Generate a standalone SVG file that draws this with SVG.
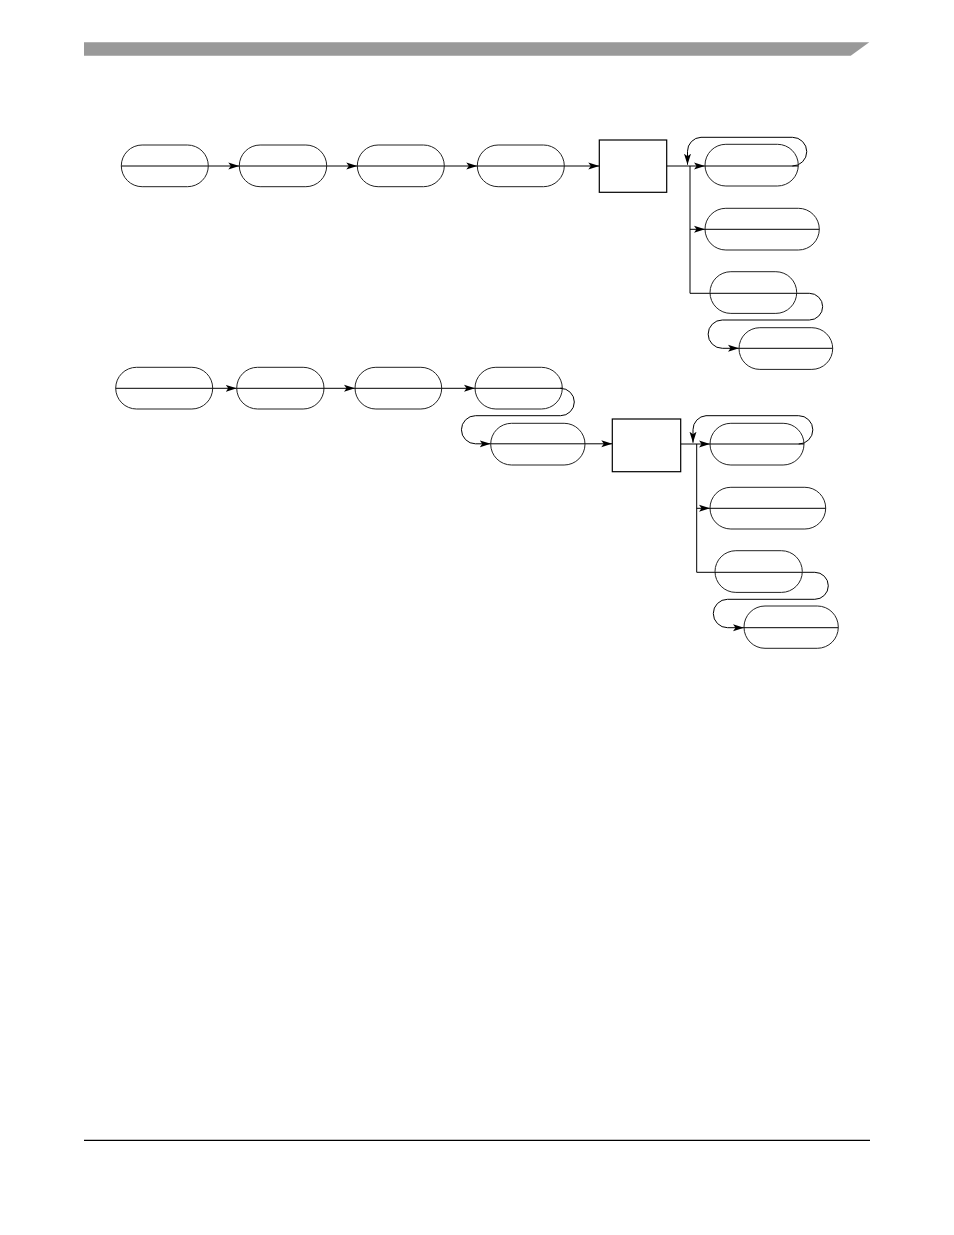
<svg xmlns="http://www.w3.org/2000/svg" width="954" height="1235" viewBox="0 0 954 1235">
<style>
.n{fill:none;stroke:#222;stroke-width:1}
.d{stroke:#000;stroke-width:1;fill:none}
.c{stroke:#000;stroke-width:1;fill:none}
.r{fill:#fff;stroke:#000;stroke-width:1.2}
</style>
<defs>
<marker id="a" markerUnits="userSpaceOnUse" markerWidth="12" markerHeight="8" refX="11" refY="4" orient="auto">
<path d="M0,0.5 L11,4 L0,7.5 L2.5,4 z" fill="#000"/>
</marker>
</defs>
<rect width="954" height="1235" fill="#fff"/>
<g id="header"><polygon points="84,42.3 869.3,42.3 850.7,55.7 84,55.7" fill="#999"/></g>
<g id="footer"><line x1="84" y1="1140.3" x2="870" y2="1140.3" stroke="#000" stroke-width="1.2"/></g>

<g id="connectors">
<line class="c" x1="208.3" y1="166" x2="239.3" y2="166" marker-end="url(#a)"/>
<line class="c" x1="326.7" y1="166" x2="357.3" y2="166" marker-end="url(#a)"/>
<line class="c" x1="444.3" y1="166" x2="477.3" y2="166" marker-end="url(#a)"/>
<line class="c" x1="564.3" y1="166" x2="599.3" y2="166" marker-end="url(#a)"/>
<line class="c" x1="666.7" y1="166" x2="705" y2="166" marker-end="url(#a)"/>
<line class="c" x1="690" y1="166" x2="690" y2="293.3"/>
<line class="c" x1="690" y1="229.3" x2="705" y2="229.3" marker-end="url(#a)"/>
<line class="c" x1="690" y1="293.3" x2="710" y2="293.3"/>
<path class="c" d="M792.4 166 A14.3 14.3 0 0 0 792.4 137.3 H701 A14 14 0 0 0 687.5 151.3 V164.7" marker-end="url(#a)"/>
<path class="c" d="M796.7 293.3 H809.3 A13.35 13.35 0 0 1 809.3 320 H722.3 A14.15 14.15 0 0 0 722.3 348.3 H739" marker-end="url(#a)"/>

<line class="c" x1="212.7" y1="388.3" x2="236.7" y2="388.3" marker-end="url(#a)"/>
<line class="c" x1="324" y1="388.3" x2="355" y2="388.3" marker-end="url(#a)"/>
<line class="c" x1="441.7" y1="388.3" x2="475" y2="388.3" marker-end="url(#a)"/>
<path class="c" d="M562.3 388.3 H560.6 A13.7 13.7 0 0 1 560.6 415.7 H475.5 A13.8 13.8 0 0 0 475.5 443.8 H490.7" marker-end="url(#a)"/>
<line class="c" x1="585" y1="443.8" x2="612.3" y2="443.8" marker-end="url(#a)"/>
<line class="c" x1="680.7" y1="444" x2="710" y2="444" marker-end="url(#a)"/>
<line class="c" x1="696.7" y1="444" x2="696.7" y2="572.3"/>
<line class="c" x1="696.7" y1="508.3" x2="710" y2="508.3" marker-end="url(#a)"/>
<line class="c" x1="696.7" y1="572.3" x2="715" y2="572.3"/>
<path class="c" d="M798.7 444 A14.15 14.15 0 0 0 798.7 415.7 H706 A14 14 0 0 0 693 429.7 V442.7" marker-end="url(#a)"/>
<path class="c" d="M802.3 572.3 H814.8 A13.5 13.5 0 0 1 814.8 599.3 H727.5 A14.2 14.2 0 0 0 727.5 627.7 H744" marker-end="url(#a)"/>
</g>

<g id="t1"><rect class="n" x="121.3" y="145" width="87" height="41.7" rx="20.85"/><line class="d" x1="121.3" y1="166" x2="208.3" y2="166"/></g>
<g id="t2"><rect class="n" x="239.3" y="145" width="87.4" height="41.7" rx="20.85"/><line class="d" x1="239.3" y1="166" x2="326.7" y2="166"/></g>
<g id="t3"><rect class="n" x="357.3" y="145" width="87" height="41.7" rx="20.85"/><line class="d" x1="357.3" y1="166" x2="444.3" y2="166"/></g>
<g id="t4"><rect class="n" x="477.3" y="145" width="87" height="41.7" rx="20.85"/><line class="d" x1="477.3" y1="166" x2="564.3" y2="166"/></g>
<g id="tbox"><rect class="r" x="599.3" y="140" width="67.4" height="52.3"/></g>
<g id="tA"><rect class="n" x="705" y="144.3" width="93.3" height="41.7" rx="20.85"/><line class="d" x1="705" y1="166" x2="798.3" y2="166"/></g>
<g id="tB"><rect class="n" x="705" y="208.3" width="114.3" height="41.7" rx="20.85"/><line class="d" x1="705" y1="229.3" x2="819.3" y2="229.3"/></g>
<g id="tC"><rect class="n" x="710" y="271.7" width="86.7" height="41.7" rx="20.85"/><line class="d" x1="710" y1="293.3" x2="796.7" y2="293.3"/></g>
<g id="tD"><rect class="n" x="739" y="327.7" width="93.7" height="41.7" rx="20.85"/><line class="d" x1="739" y1="348.3" x2="832.7" y2="348.3"/></g>

<g id="b1"><rect class="n" x="115.7" y="367.3" width="97" height="41.7" rx="20.85"/><line class="d" x1="115.7" y1="388.3" x2="212.7" y2="388.3"/></g>
<g id="b2"><rect class="n" x="236.7" y="367.3" width="87.3" height="41.7" rx="20.85"/><line class="d" x1="236.7" y1="388.3" x2="324" y2="388.3"/></g>
<g id="b3"><rect class="n" x="355" y="367.3" width="86.7" height="41.7" rx="20.85"/><line class="d" x1="355" y1="388.3" x2="441.7" y2="388.3"/></g>
<g id="b4"><rect class="n" x="475" y="367.3" width="87.3" height="41.7" rx="20.85"/><line class="d" x1="475" y1="388.3" x2="562.3" y2="388.3"/></g>
<g id="b5"><rect class="n" x="490.7" y="423.3" width="94.3" height="41.7" rx="20.85"/><line class="d" x1="490.7" y1="443.8" x2="585" y2="443.8"/></g>
<g id="bbox"><rect class="r" x="612.3" y="419" width="68.4" height="52.7"/></g>
<g id="bA"><rect class="n" x="710" y="423.3" width="94" height="41.7" rx="20.85"/><line class="d" x1="710" y1="444" x2="804" y2="444"/></g>
<g id="bB"><rect class="n" x="710" y="487.3" width="115.7" height="41.7" rx="20.85"/><line class="d" x1="710" y1="508.3" x2="825.7" y2="508.3"/></g>
<g id="bC"><rect class="n" x="715" y="550.7" width="87.3" height="41.7" rx="20.85"/><line class="d" x1="715" y1="572.3" x2="802.3" y2="572.3"/></g>
<g id="bD"><rect class="n" x="744" y="606" width="94.3" height="42.3" rx="21"/><line class="d" x1="744" y1="627.7" x2="838.3" y2="627.7"/></g>
</svg>
